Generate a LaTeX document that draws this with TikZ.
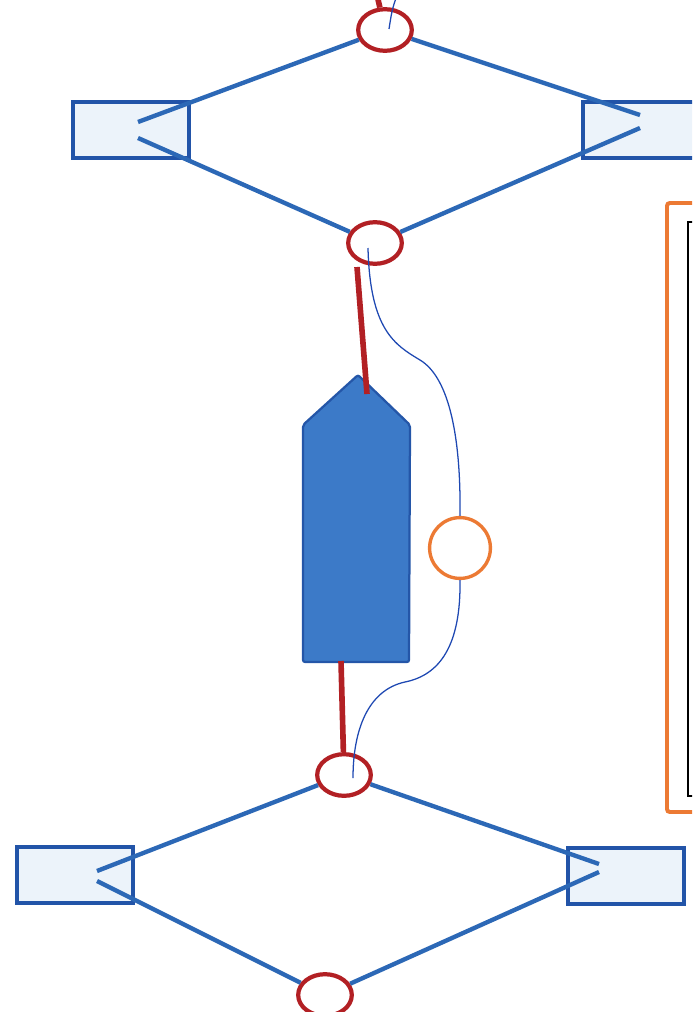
\documentclass[tikz,border=0pt]{standalone}
\usetikzlibrary{shapes.geometric,positioning}

\definecolor{strutblue}{RGB}{44,104,182}
\definecolor{padblue}{RGB}{34,84,168}
\definecolor{padfill}{RGB}{236,243,250}
\definecolor{jointred}{RGB}{178,32,36}
\definecolor{bodyblue}{RGB}{60,122,200}
\definecolor{bodyedge}{RGB}{36,86,168}
\definecolor{wireblue}{RGB}{30,72,178}
\definecolor{frameorange}{RGB}{236,122,52}

\begin{document}
\begin{tikzpicture}[x=0.025cm,y=-0.025cm,
    joint/.style={ellipse,draw=jointred,line width=3pt,
      minimum width=1.34cm,minimum height=1.04cm,inner sep=0pt},
    pad/.style={draw=padblue,fill=padfill,line width=2.9pt,
      minimum width=2.92cm,minimum height=1.38cm,inner sep=0pt},
    sensor/.style={circle,draw=frameorange,line width=2.4pt,
      minimum size=1.52cm,inner sep=0pt},
    strut/.style={draw=strutblue,line width=3.1pt},
    rod/.style={draw=jointred,line width=4pt},
    wire/.style={draw=wireblue,line width=0.9pt}]
    \useasboundingbox (0,0) rectangle (692,1012);
    \clip (0,0) rectangle (692,1012);

    % upper frame
    \node[pad]    (pad_tl) at (131,130)  {};
    \node[pad]    (pad_tr) at (641,130)  {};
    \node[joint]  (j_top)  at (385,30)   {};
    \node[joint]  (j_up)   at (375,243)  {};
    % lower frame
    \node[pad]    (pad_bl) at (75,875)   {};
    \node[pad]    (pad_br) at (626,876)  {};
    \node[joint]  (j_low)  at (344,775)  {};
    \node[joint]  (j_bot)  at (325,995)  {};
    % sensor on the wire
    \node[sensor] (sens)   at (460,548)  {};

    % strut ends inside the pads
    \coordinate (tl_a) at (138,122);  \coordinate (tl_b) at (138,138);
    \coordinate (tr_a) at (640,115);  \coordinate (tr_b) at (640,128);
    \coordinate (bl_a) at (97,871);   \coordinate (bl_b) at (97,881);
    \coordinate (br_a) at (599,864);  \coordinate (br_b) at (599,872);

    \path[strut]
        (j_top) edge (tl_a)  edge (tr_a)
        (j_up)  edge (tl_b)  edge (tr_b)
        (j_low) edge (bl_a)  edge (br_a)
        (j_bot) edge (bl_b)  edge (br_b);

    % central body
    \coordinate (b_tip)  at (358,375);
    \coordinate (b_in)   at (367,394);
    \coordinate (b_foot) at (341,661);
    \draw[fill=bodyblue,draw=bodyedge,line width=1.6pt,rounded corners=1.5pt]
        (303,662) -- (303,425) -- (b_tip) -- (410,425) -- (409,662) -- cycle;

    % rods
    \coordinate (r_up)  at (357,267);
    \coordinate (r_top) at (377,-5);
    \draw[rod] (r_up) -- (b_in);
    \draw[rod] (b_foot) -- (j_low);
    \draw[rod] (r_top) -- (j_top);

    % wire
    \coordinate (w_up)  at (368,248);
    \coordinate (w_low) at (353,778);
    \coordinate (w_top) at (397,-5);
    \coordinate (w_end) at (389,29);
    \draw[wire] (w_up) .. controls (370,330) and (395,345) .. (420,360)
        .. controls (450,378) and (461,440) .. (sens.north);
    \draw[wire] (sens.south) .. controls (461,645) and (440,675) .. (405,682)
        .. controls (368,690) and (353,730) .. (w_low);
    \draw[wire] (w_top) .. controls (392,10) .. (w_end);

    % side panel
    \draw[draw=frameorange,line width=2.8pt,rounded corners=2pt]
        (667,203) rectangle (720,812);
    \draw[black,line width=0.8pt] (688,222) rectangle (720,796);
\end{tikzpicture}
\end{document}
